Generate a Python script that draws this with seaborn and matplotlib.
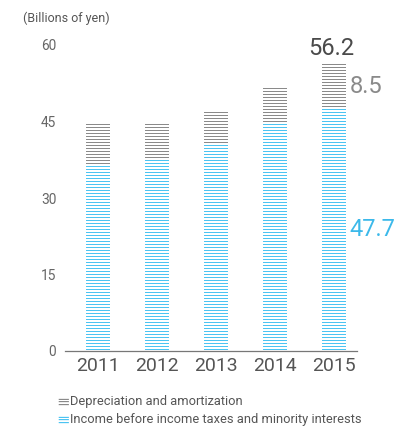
import matplotlib
matplotlib.use("Agg")
import matplotlib.pyplot as plt
import seaborn as sns
import pandas as pd

# Data (billions of yen)
years = ["2011", "2012", "2013", "2014", "2015"]
income = [36.5, 37.6, 40.6, 44.6, 47.7]
depreciation = [8.2, 7.1, 6.5, 7.1, 8.5]
yticks = [0, 15, 30, 45, 60]

GRAY = "#8a8a8a"
BLUE = "#4cc4f2"
TEXT = "#555555"

sns.set_theme(style="white")
FONT = ["Roboto", "DejaVu Sans"]
plt.rcParams["font.family"] = FONT
plt.rcParams["hatch.linewidth"] = 0.8

DPI = 90
W, H = 409, 427
fig = plt.figure(figsize=(W / DPI, H / DPI), dpi=DPI)
ax = fig.add_axes([65 / W, (H - 351) / H, (357 - 65) / W, (351 - 45) / H])

df = pd.DataFrame({
    "year": years,
    "income": income,
    "depreciation": depreciation,
})
df["total"] = df["income"] + df["depreciation"]

# Full stack (hatched gray), then the income part overlaid in hatched blue
sns.barplot(data=df, x="year", y="total", ax=ax, width=0.41,
            color="white", saturation=1, edgecolor=GRAY, linewidth=0,
            hatch="-----")
sns.barplot(data=df, x="year", y="income", ax=ax, width=0.41,
            color="white", saturation=1, edgecolor=BLUE, linewidth=0,
            hatch="-----")

ax.set_xlim(-0.56, 4.39)
ax.set_ylim(0, 60)
ax.set_yticks(yticks)
ax.set_yticklabels([str(v) for v in yticks])
ax.set_xlabel("")
ax.set_ylabel("")

for s in ["top", "right", "left"]:
    ax.spines[s].set_visible(False)
ax.spines["bottom"].set_color("#777777")
ax.spines["bottom"].set_linewidth(1.0)
ax.tick_params(axis="y", length=0, pad=7, labelsize=11, labelcolor="#666666")
ax.tick_params(axis="x", length=0, pad=5, labelsize=15.5, labelcolor=TEXT)

# Value labels for the latest year
last = len(years) - 1
tot = df["total"].iloc[last]
ax.text(last - 0.05, tot + 1.8, f"{tot:.1f}", ha="center", va="baseline",
        fontsize=19, color="#4a4a4a", clip_on=False)
ax.text(last + 0.27, income[last] + depreciation[last] / 2,
        f"{depreciation[last]:.1f}", ha="left", va="center",
        fontsize=19, color=GRAY, clip_on=False)
ax.text(last + 0.27, income[last] / 2, f"{income[last]:.1f}",
        ha="left", va="center", fontsize=19, color="#3cb9ea", clip_on=False)

# Unit note
fig.text(23 / W, 1 - 18 / H, "(Billions of yen)", ha="left", va="center",
         fontsize=10, color=TEXT)

# Legend built from text glyphs
legend = [("Depreciation and amortization", GRAY, 402),
          ("Income before income taxes and minority interests", BLUE, 420)]
for label, col, ypx in legend:
    fig.text(56 / W, 1 - ypx / H, "\u2261", ha="left", va="center",
             fontsize=13, color=col, family=["DejaVu Sans"])
    fig.text(70 / W, 1 - ypx / H, label, ha="left", va="center",
             fontsize=10.3, color=TEXT)

fig.savefig("out.png", dpi=DPI)
